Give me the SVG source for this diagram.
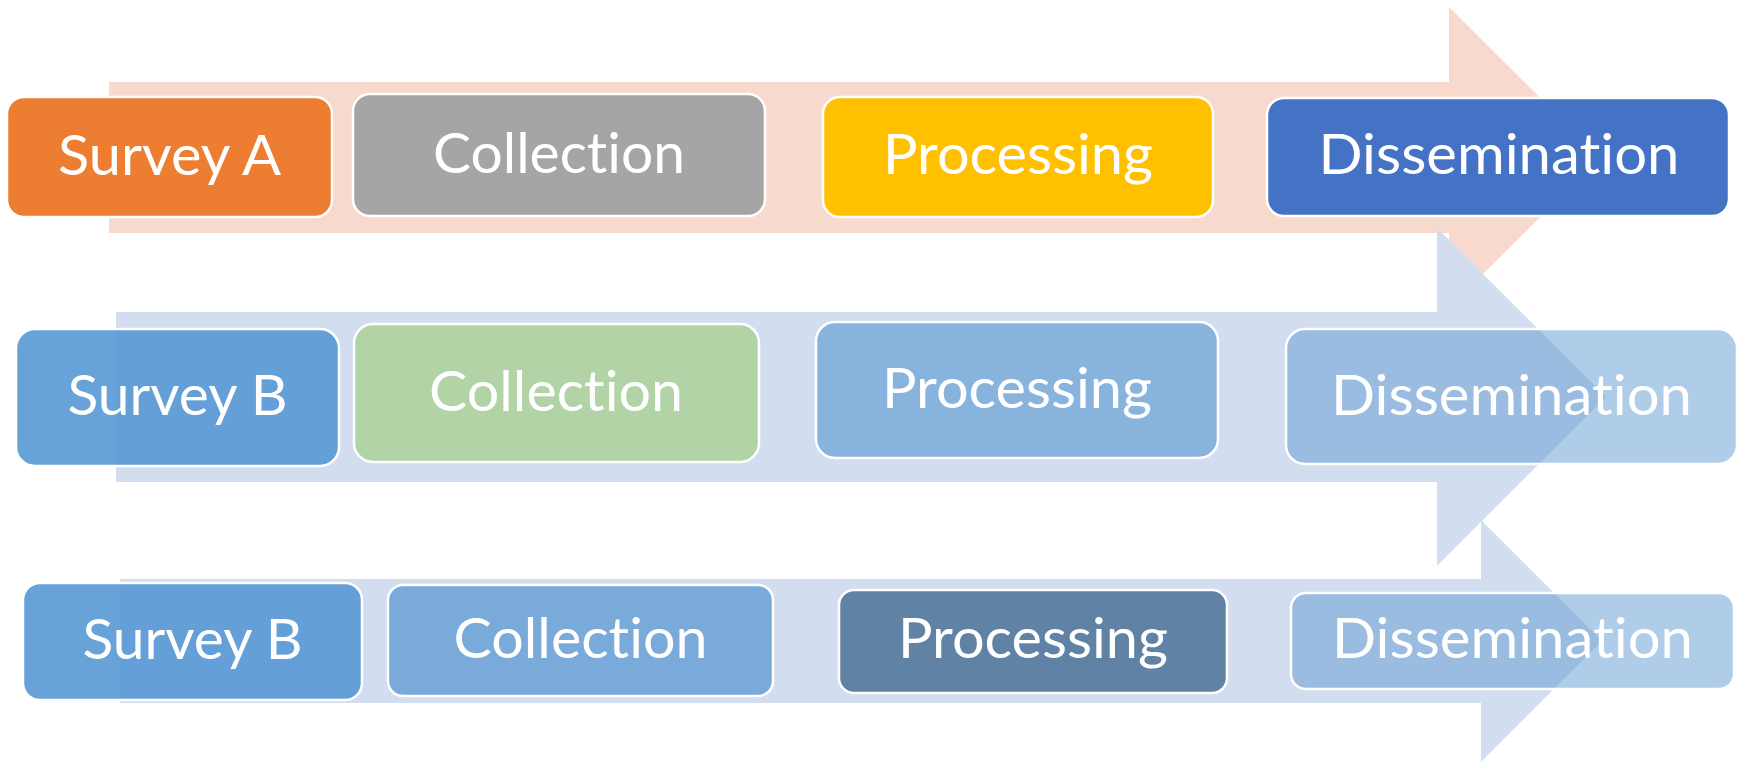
<svg xmlns="http://www.w3.org/2000/svg" width="1741" height="764" viewBox="0 0 1741 764">
  <style>
    .box { stroke: #ffffff; stroke-width: 2.5; }
    .lbl { font-family: Lato, "Open Sans", "Liberation Sans", sans-serif; font-size: 56px; fill: #ffffff; text-anchor: middle; font-variant-ligatures: none; font-feature-settings: "liga" 0, "clig" 0; }
    .a1 { fill: #F7D9CD; }
    .a2 { fill: #D2DEEF; }
  </style>
  <rect width="1741" height="764" fill="#ffffff"/>
  <g id="connectors">
    <polygon class="a1" points="109,82 1449,82 1449,7 1600,157.5 1449,308 1449,233 109,233"/>
    <polygon class="a2" points="116,312 1437,312 1437,228 1606,397 1437,566 1437,482 116,482"/>
    <polygon class="a2" points="120,579 1481,579 1481,520 1602,641 1481,762 1481,703 120,703"/>
  </g>
  <g id="row1-survey-a">
    <rect class="box" x="7" y="97" width="325" height="120" rx="17" fill="#ED7D31"/>
    <text class="lbl" x="169.5" y="175" textLength="223" lengthAdjust="spacingAndGlyphs">Survey A</text>
  </g>
  <g id="row1-collection">
    <rect class="box" x="353" y="94" width="412" height="122" rx="17" fill="#A5A5A5"/>
    <text class="lbl" x="559" y="173" textLength="252" lengthAdjust="spacingAndGlyphs">Collection</text>
  </g>
  <g id="row1-processing">
    <rect class="box" x="823" y="97" width="390" height="120" rx="17" fill="#FFC000"/>
    <text class="lbl" x="1018" y="174" textLength="270" lengthAdjust="spacingAndGlyphs">Processing</text>
  </g>
  <g id="row1-dissemination">
    <rect class="box" x="1267" y="98" width="462" height="118" rx="17" fill="#4472C4"/>
    <text class="lbl" x="1499" y="174" textLength="361" lengthAdjust="spacingAndGlyphs">Dissemination</text>
  </g>
  <g id="row2-survey-b">
    <rect class="box" x="16" y="329" width="323" height="137" rx="19" fill="#5B9BD5" fill-opacity="0.93"/>
    <text class="lbl" x="177.5" y="415" textLength="220" lengthAdjust="spacingAndGlyphs">Survey B</text>
  </g>
  <g id="row2-collection">
    <rect class="box" x="354" y="324" width="405" height="138" rx="19" fill="#B2D3A5"/>
    <text class="lbl" x="556" y="411" textLength="254" lengthAdjust="spacingAndGlyphs">Collection</text>
  </g>
  <g id="row2-processing">
    <rect class="box" x="816" y="322" width="402" height="136" rx="19" fill="#88B3DD"/>
    <text class="lbl" x="1017" y="408" textLength="270" lengthAdjust="spacingAndGlyphs">Processing</text>
  </g>
  <g id="row2-dissemination">
    <rect class="box" x="1286" y="329" width="451" height="135" rx="19" fill="#5F99D1" fill-opacity="0.5"/>
    <text class="lbl" x="1511.5" y="415" textLength="361" lengthAdjust="spacingAndGlyphs">Dissemination</text>
  </g>
  <g id="row3-survey-b">
    <rect class="box" x="23" y="583" width="339" height="117" rx="17" fill="#5B9BD5" fill-opacity="0.93"/>
    <text class="lbl" x="192.5" y="659" textLength="220" lengthAdjust="spacingAndGlyphs">Survey B</text>
  </g>
  <g id="row3-collection">
    <rect class="box" x="388" y="585" width="385" height="111" rx="15" fill="#79AADA"/>
    <text class="lbl" x="580.5" y="658" textLength="254" lengthAdjust="spacingAndGlyphs">Collection</text>
  </g>
  <g id="row3-processing">
    <rect class="box" x="839" y="590" width="388" height="103" rx="15" fill="#6083A5"/>
    <text class="lbl" x="1033" y="658" textLength="270" lengthAdjust="spacingAndGlyphs">Processing</text>
  </g>
  <g id="row3-dissemination">
    <rect class="box" x="1291" y="593" width="443" height="96" rx="15" fill="#5F99D1" fill-opacity="0.5"/>
    <text class="lbl" x="1512.5" y="658" textLength="361" lengthAdjust="spacingAndGlyphs">Dissemination</text>
  </g>
</svg>
